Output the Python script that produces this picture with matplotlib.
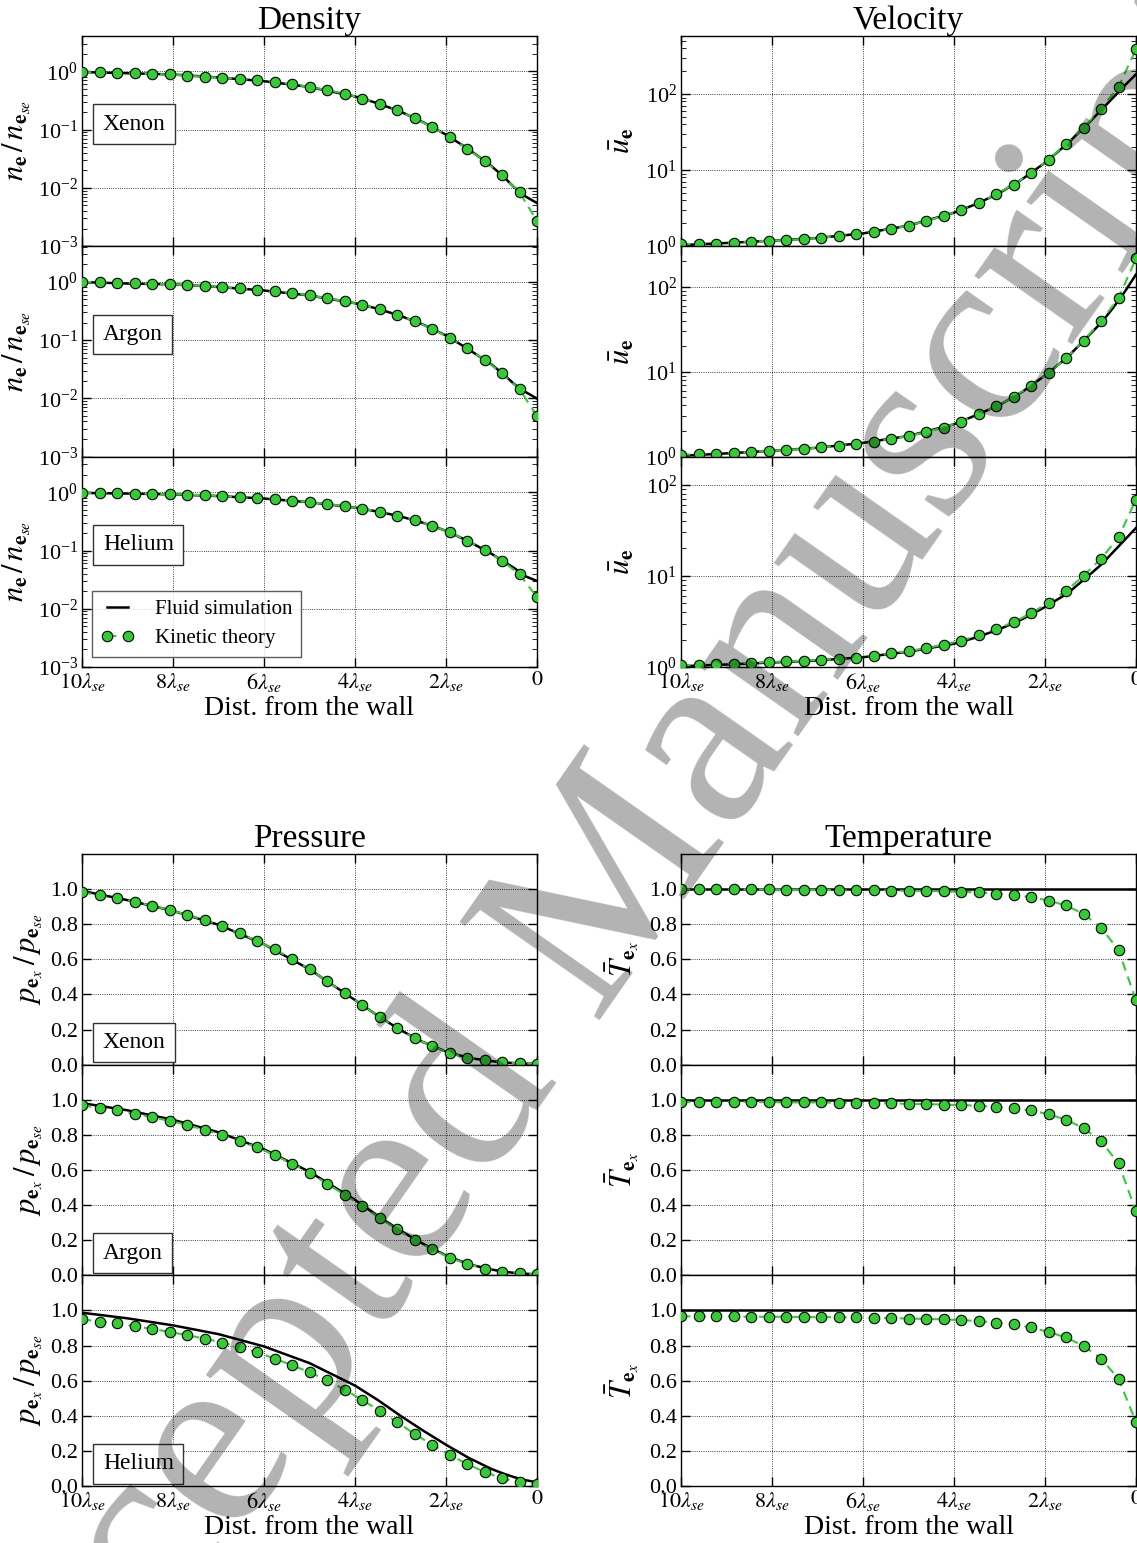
import numpy as np
import matplotlib
matplotlib.use('Agg')
import matplotlib.pyplot as plt

plt.rcParams.update({
    'font.family': 'serif',
    'font.serif': ['Liberation Serif', 'DejaVu Serif'],
    'mathtext.fontset': 'stix',
    'xtick.direction': 'in', 'ytick.direction': 'in',
    'xtick.top': True, 'ytick.right': True,
    'xtick.major.size': 6.5, 'ytick.major.size': 6.5,
    'xtick.minor.size': 3.5, 'ytick.minor.size': 3.5,
    'xtick.major.width': 1.0, 'ytick.major.width': 1.0,
    'axes.linewidth': 1.0,
    'grid.color': 'k', 'grid.linestyle': ':', 'grid.linewidth': 0.6,
})

species = ['Xenon', 'Argon', 'Helium']
x_ticks = [10, 8, 6, 4, 2, 0]
x_ticklabels = [r'$10\lambda_{se}$', r'$8\lambda_{se}$', r'$6\lambda_{se}$',
                r'$4\lambda_{se}$', r'$2\lambda_{se}$', r'$0$']

# kinetic theory sample positions (distance from wall, units of lambda_se)
x_kin = np.linspace(10, 0, 27)
# fluid simulation sample positions
x_fluid = [10, 9, 8, 7, 6, 5, 4, 3.5, 3, 2.5, 2, 1.5, 1, 0.75, 0.5, 0.25, 0]

# ---------------- Density ----------------
dens_kin_xe = [0.975, 0.962, 0.937, 0.925, 0.90, 0.89, 0.84, 0.81, 0.78, 0.74, 0.70, 0.65, 0.60, 0.54,
               0.48, 0.416, 0.342, 0.277, 0.216, 0.158, 0.111, 0.075, 0.0474, 0.0288, 0.0164, 0.0084, 0.0027]
dens_flu_xe = [0.975, 0.93, 0.885, 0.786, 0.68, 0.54, 0.372, 0.283, 0.204, 0.134, 0.082, 0.046, 0.0236,
               0.016, 0.0102, 0.0071, 0.0055]
dens_kin_ar = [1.0, 0.987, 0.961, 0.949, 0.924, 0.912, 0.877, 0.843, 0.81, 0.769, 0.729, 0.683, 0.64, 0.583,
               0.525, 0.466, 0.403, 0.34, 0.272, 0.212, 0.156, 0.11, 0.072, 0.046, 0.0268, 0.0143, 0.005]
dens_flu_ar = [0.99, 0.935, 0.905, 0.816, 0.71, 0.583, 0.43, 0.345, 0.26, 0.184, 0.12, 0.069, 0.038,
               0.0265, 0.0175, 0.0128, 0.0099]
dens_kin_he = [0.974, 0.974, 0.961, 0.949, 0.936, 0.924, 0.912, 0.888, 0.854, 0.821, 0.789, 0.759, 0.72, 0.674,
               0.631, 0.575, 0.525, 0.46, 0.398, 0.331, 0.265, 0.206, 0.148, 0.104, 0.067, 0.039, 0.0158]
dens_flu_he = [0.975, 0.95, 0.92, 0.86, 0.78, 0.674, 0.545, 0.466, 0.385, 0.298, 0.218, 0.143, 0.088,
               0.066, 0.050, 0.036, 0.030]

# ---------------- Velocity ----------------
vel_kin_xe = [1.06, 1.07, 1.08, 1.11, 1.14, 1.18, 1.2, 1.24, 1.29, 1.36, 1.43, 1.53, 1.68, 1.86, 2.14,
              2.49, 2.99, 3.7, 4.82, 6.46, 9.1, 13.7, 22.1, 35.9, 64, 124, 389]
vel_flu_xe = [1.03, 1.1, 1.18, 1.28, 1.47, 1.86, 2.75, 3.6, 5.0, 7.6, 12.5, 22.5, 44, 63, 90, 129, 182]
vel_kin_ar = [1.05, 1.07, 1.085, 1.105, 1.135, 1.167, 1.2, 1.23, 1.28, 1.34, 1.41, 1.5, 1.62, 1.75, 1.94,
              2.2, 2.57, 3.16, 3.9, 5.0, 6.8, 9.6, 14.5, 23.2, 39.3, 73.5, 216]
vel_flu_ar = [1.02, 1.09, 1.17, 1.27, 1.45, 1.75, 2.4, 3.1, 4.05, 5.8, 9.0, 15, 28, 38.5, 57, 87, 140]
vel_kin_he = [1.04, 1.06, 1.08, 1.09, 1.11, 1.13, 1.15, 1.17, 1.2, 1.22, 1.27, 1.32, 1.41, 1.49, 1.61,
              1.76, 1.95, 2.22, 2.6, 3.11, 3.88, 5.08, 6.83, 10.0, 15.4, 26.5, 68.9]
vel_flu_he = [1.02, 1.065, 1.12, 1.18, 1.28, 1.47, 1.8, 2.12, 2.6, 3.35, 4.55, 6.45, 10.5, 13.5, 18.3, 24.8, 33.6]

# ---------------- Pressure ----------------
pres_kin_xe = [0.981, 0.966, 0.949, 0.928, 0.905, 0.882, 0.853, 0.825, 0.79, 0.749, 0.705, 0.657, 0.604,
               0.543, 0.476, 0.408, 0.341, 0.272, 0.208, 0.152, 0.105, 0.067, 0.04, 0.025, 0.013, 0.008, 0.004]
pres_flu_xe = [0.99, 0.937, 0.876, 0.797, 0.686, 0.543, 0.368, 0.279, 0.197, 0.128, 0.075, 0.0385, 0.020,
               0.013, 0.009, 0.006, 0.004]
pres_kin_ar = [0.968, 0.953, 0.939, 0.92, 0.901, 0.88, 0.856, 0.829, 0.801, 0.767, 0.729, 0.685, 0.636,
               0.583, 0.522, 0.459, 0.397, 0.326, 0.262, 0.199, 0.15, 0.1, 0.066, 0.038, 0.021, 0.011, 0.006]
pres_flu_ar = [0.981, 0.94, 0.886, 0.815, 0.718, 0.59, 0.43, 0.338, 0.254, 0.179, 0.113, 0.063, 0.033,
               0.022, 0.014, 0.009, 0.006]
pres_kin_he = [0.949, 0.937, 0.926, 0.91, 0.895, 0.878, 0.859, 0.84, 0.817, 0.79, 0.762, 0.726, 0.688,
               0.648, 0.602, 0.549, 0.491, 0.429, 0.364, 0.297, 0.236, 0.177, 0.126, 0.08, 0.044, 0.021, 0.011]
pres_flu_he = [0.987, 0.955, 0.915, 0.865, 0.795, 0.70, 0.572, 0.49, 0.40, 0.315, 0.235, 0.16, 0.097,
               0.072, 0.05, 0.033, 0.021]

# ---------------- Temperature ----------------
temp_kin_xe = [0.998, 0.998, 0.998, 0.998, 0.998, 0.998, 0.996, 0.996, 0.996, 0.994, 0.994, 0.994, 0.992,
               0.99, 0.99, 0.987, 0.985, 0.981, 0.975, 0.966, 0.954, 0.935, 0.907, 0.859, 0.781, 0.653, 0.366]
temp_kin_ar = [0.987, 0.987, 0.987, 0.987, 0.987, 0.987, 0.985, 0.985, 0.985, 0.983, 0.983, 0.981, 0.979,
               0.977, 0.975, 0.973, 0.97, 0.966, 0.96, 0.951, 0.939, 0.918, 0.886, 0.839, 0.763, 0.639, 0.364]
temp_kin_he = [0.966, 0.966, 0.966, 0.966, 0.964, 0.964, 0.964, 0.962, 0.962, 0.962, 0.96, 0.958, 0.956,
               0.954, 0.952, 0.949, 0.945, 0.939, 0.931, 0.92, 0.903, 0.878, 0.846, 0.798, 0.726, 0.611, 0.364]
temp_flu_xe = [1.0, 1.0, 1.0, 1.0, 1.0, 1.0, 1.0, 1.0, 1.0, 1.0, 1.0, 1.0, 1.0, 1.0, 1.0, 1.0, 1.0]
temp_flu_ar = [1.0, 1.0, 1.0, 1.0, 1.0, 1.0, 1.0, 1.0, 1.0, 1.0, 1.0, 1.0, 1.0, 1.0, 1.0, 1.0, 1.0]
temp_flu_he = [1.0, 1.0, 1.0, 1.0, 1.0, 1.0, 1.0, 1.0, 1.0, 1.0, 1.0, 1.0, 1.0, 1.0, 1.0, 1.0, 1.0]

GREEN = '#33cc33'
W, H = 1137, 1543
fig = plt.figure(figsize=(W / 100, H / 100), dpi=100)

def axes_rect(left_px, top_px, bottom_px, i):
    h = (bottom_px - top_px) / 3.0
    t = top_px + i * h
    return [left_px / W, 1 - (t + h) / H, 455 / W, h / H]

groups = [
    dict(title='Density', left=82, top=35.7, bottom=667, log=True,
         kin=[dens_kin_xe, dens_kin_ar, dens_kin_he], flu=[dens_flu_xe, dens_flu_ar, dens_flu_he],
         ylims=[(1e-3, 4.1)] * 3, yticks=[1e-3, 1e-2, 1e-1, 1e0],
         ylabel=r'$n_{\mathbf{e}}\,/\,n_{\mathbf{e}_{se}}$', labx=-0.108, box=0.58, legend=True),
    dict(title='Velocity', left=681, top=35.7, bottom=667, log=True,
         kin=[vel_kin_xe, vel_kin_ar, vel_kin_he], flu=[vel_flu_xe, vel_flu_ar, vel_flu_he],
         ylims=[(1, 585), (1, 302), (1, 204)], yticks=[1e0, 1e1, 1e2],
         ylabel=r'$\bar{u}_{\mathbf{e}}$', labx=-0.097, box=None, legend=False),
    dict(title='Pressure', left=82, top=854, bottom=1486, log=False,
         kin=[pres_kin_xe, pres_kin_ar, pres_kin_he], flu=[pres_flu_xe, pres_flu_ar, pres_flu_he],
         ylims=[(0, 1.2)] * 3, yticks=[0.0, 0.2, 0.4, 0.6, 0.8, 1.0],
         ylabel=r'$p_{\mathbf{e}_x}\,/\,p_{\mathbf{e}_{se}}$', labx=-0.082, box=0.105, legend=False),
    dict(title='Temperature', left=681, top=854, bottom=1486, log=False,
         kin=[temp_kin_xe, temp_kin_ar, temp_kin_he], flu=[temp_flu_xe, temp_flu_ar, temp_flu_he],
         ylims=[(0, 1.2)] * 3, yticks=[0.0, 0.2, 0.4, 0.6, 0.8, 1.0],
         ylabel=r'$\bar{T}_{\mathbf{e}_x}$', labx=-0.088, box=None, legend=False),
]

for g in groups:
    for i in range(3):
        ax = fig.add_axes(axes_rect(g['left'], g['top'], g['bottom'], i))
        ax.plot(x_fluid, g['flu'][i], '-', color='k', lw=1.8, label='Fluid simulation', zorder=3)
        ax.plot(x_kin, g['kin'][i], '--o', color=GREEN, mfc=GREEN, mec='k', mew=0.8, ms=7.5,
                lw=1.5, dashes=(4.5, 3), label='Kinetic theory', zorder=4)
        if g['log']:
            ax.set_yscale('log')
        ax.set_ylim(*g['ylims'][i])
        ax.set_yticks(g['yticks'])
        if not g['log']:
            ax.set_yticklabels(['%.1f' % v for v in g['yticks']])
        ax.set_xlim(10, 0)
        ax.set_xticks(x_ticks)
        ax.grid(True, which='major')
        ax.tick_params(axis='both', which='major', labelsize=16, pad=3)
        ax.set_ylabel(g['ylabel'], fontsize=22)
        ax.yaxis.set_label_coords(g['labx'], 0.5)
        if i == 2:
            ax.set_xticklabels(x_ticklabels)
            ax.set_xlabel('Dist. from the wall', fontsize=20, labelpad=1)
        else:
            ax.set_xticklabels([])
        if i == 0:
            ax.set_title(g['title'], fontsize=24, pad=3)
        if g['box'] is not None:
            ax.text(0.046, g['box'], species[i], transform=ax.transAxes, fontsize=17,
                    ha='left', va='center', zorder=6,
                    bbox=dict(boxstyle='square,pad=0.4', fc='white', ec='#333333', lw=1.0))
        if g['legend'] and i == 2:
            leg = ax.legend(loc='lower left', fontsize=15, numpoints=2, fancybox=False,
                            handlelength=1.6, borderpad=0.4, labelspacing=0.45, handletextpad=1.0)
            leg.get_frame().set_edgecolor('#333333')
            leg.get_frame().set_linewidth(1.0)

# watermark
fig.text(0.514, 0.395, 'Accepted Manuscript', rotation=55, fontsize=188, color='k', alpha=0.3,
         ha='center', va='center', family='Liberation Serif', zorder=100)

fig.savefig('out.png', dpi=100)
